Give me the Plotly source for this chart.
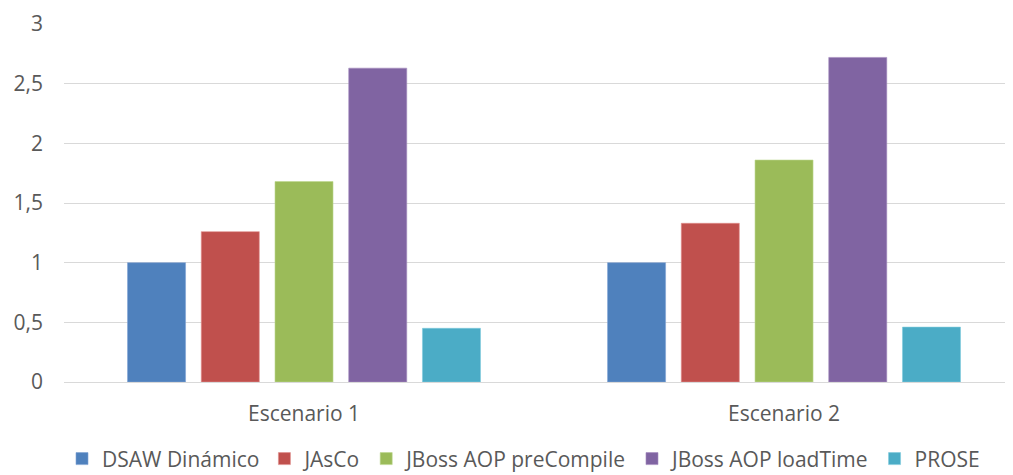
import plotly.graph_objects as go

categories = ["Escenario 1", "Escenario 2"]
series_names = ["DSAW Dinámico", "JAsCo", "JBoss AOP preCompile", "JBoss AOP loadTime", "PROSE"]
dsaw = [1.0, 1.0]
jasco = [1.26, 1.33]
jboss_pre = [1.68, 1.86]
jboss_load = [2.63, 2.72]
prose = [0.45, 0.46]
y_ticks = [0, 0.5, 1, 1.5, 2, 2.5, 3]

colors = ["#4F81BD", "#C0504D", "#9BBB59", "#8064A2", "#4BACC6"]
edge = ["#7FA3D3", "#E08F8D", "#BDD78E", "#A48BC0", "#7FCBDD"]
values = [dsaw, jasco, jboss_pre, jboss_load, prose]

fig = go.Figure()
for name, vals, c, e in zip(series_names, values, colors, edge):
    fig.add_trace(go.Bar(
        x=categories, y=vals, name=name,
        marker=dict(color=c, line=dict(color=e, width=0.6)),
    ))

font_family = "Open Sans, DejaVu Sans, sans-serif"
fs = 21
fig.update_layout(
    width=1005, height=467,
    margin=dict(l=56, r=0, t=16, b=93, autoexpand=False),
    paper_bgcolor="white", plot_bgcolor="white",
    barmode="group", bargap=0.232, bargroupgap=0.213,
    separators=", ",
    font=dict(family=font_family, size=fs, color="#595959"),
    xaxis=dict(
        range=[-0.5, 1.477], showgrid=False, showline=False, zeroline=False,
        ticks="", ticklabelstandoff=17, tickfont=dict(size=fs, color="#595959"),
    ),
    yaxis=dict(
        range=[0, 3], tickvals=y_ticks, showgrid=True, gridcolor="#D9D9D9",
        gridwidth=1.3, zeroline=True, zerolinecolor="#D9D9D9", zerolinewidth=1.3,
        showline=False, ticks="", ticklabelstandoff=20,
        tickfont=dict(size=fs, color="#595959"),
    ),
    legend=dict(
        orientation="h", x=-0.0021, xanchor="left", y=-0.215, yanchor="middle",
        font=dict(size=fs, color="#595959"), bgcolor="rgba(0,0,0,0)",
        traceorder="normal",
    ),
)

fig.write_html("out.html")
